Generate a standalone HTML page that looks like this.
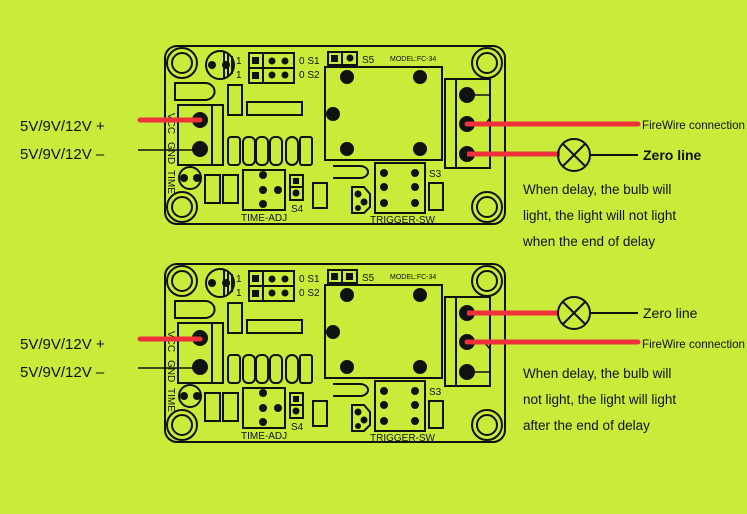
<!DOCTYPE html>
<html><head><meta charset="utf-8"><style>
html,body{margin:0;padding:0;background:#c9ec3a;}
svg{display:block}
text{font-family:"Liberation Sans",sans-serif;}
.m{font-family:"Liberation Mono",monospace;font-size:10px;fill:#111}
</style></head><body>
<svg width="747" height="514" viewBox="0 0 747 514" xmlns="http://www.w3.org/2000/svg">
<rect width="747" height="514" fill="#c9ec3a"/>

<!-- BOARD 1 -->
<g id="b1" stroke="#111" stroke-width="2" fill="none">
<rect x="165" y="46" width="340" height="178" rx="12"/>
<circle cx="182" cy="63" r="15"/><circle cx="182" cy="63" r="10"/>
<circle cx="487" cy="63" r="15"/><circle cx="487" cy="63" r="10"/>
<circle cx="182" cy="207" r="15"/><circle cx="182" cy="207" r="10"/>
<circle cx="487" cy="207" r="15"/><circle cx="487" cy="207" r="10"/>
<circle cx="220" cy="65" r="14"/>
<line x1="224" y1="52" x2="224" y2="78"/><line x1="228" y1="53" x2="228" y2="77"/><line x1="232" y1="56" x2="232" y2="74"/>
<rect x="249" y="53" width="45" height="30"/><line x1="263" y1="53" x2="263" y2="83"/><line x1="249" y1="68" x2="294" y2="68"/>
<rect x="328" y="52" width="29" height="13"/><line x1="342" y1="52" x2="342" y2="65"/>
<rect x="325" y="67" width="117" height="93"/>
<rect x="445" y="79" width="45" height="89"/><line x1="456" y1="79" x2="456" y2="168"/>
<rect x="178" y="105" width="45" height="60"/><line x1="212" y1="105" x2="212" y2="165"/>
<path d="M175 83 H205 A9 8 0 0 1 205 100 H175 Z"/>
<rect x="228" y="85" width="14" height="30"/>
<rect x="247" y="102" width="55" height="13"/>
<rect x="228" y="137" width="12" height="28" rx="3"/>
<rect x="243" y="137" width="12" height="28" rx="5"/>
<rect x="256" y="137" width="12" height="28" rx="5"/>
<rect x="270" y="137" width="12" height="28" rx="5"/>
<rect x="286" y="137" width="12" height="28" rx="6"/>
<rect x="300" y="137" width="12" height="28" rx="2"/>
<circle cx="190" cy="178" r="11"/>
<rect x="205" y="175" width="15" height="28"/>
<rect x="223" y="175" width="15" height="28"/>
<rect x="243" y="170" width="42" height="40"/>
<rect x="290" y="175" width="13" height="25"/><line x1="290" y1="187" x2="303" y2="187"/>
<rect x="313" y="183" width="14" height="25"/>
<path d="M333 166 H360 A8 6 0 0 1 360 178 H333"/>
<path d="M352 187 H364 L370 194 V207 L364 213 H352 Z"/>
<rect x="375" y="163" width="50" height="50"/>
<rect x="429" y="183" width="14" height="27"/>
<polyline points="467,95 490,95 490,118 484,126" stroke-width="1.5"/>
<line x1="490" y1="132" x2="490" y2="152" stroke-width="1.5"/>
</g>
<g fill="#111">
<circle cx="212" cy="65" r="4"/><circle cx="226" cy="65" r="4"/>
<rect x="252" y="57" width="7" height="7"/><rect x="252" y="72" width="7" height="7"/>
<circle cx="272" cy="61" r="3.5"/><circle cx="285" cy="61" r="3.5"/><circle cx="272" cy="75" r="3.5"/><circle cx="285" cy="75" r="3.5"/>
<rect x="331" y="55" width="7" height="7"/><circle cx="350" cy="58" r="3.5"/>
<circle cx="347" cy="77" r="7"/><circle cx="420" cy="77" r="7"/><circle cx="333" cy="114" r="7"/><circle cx="347" cy="149" r="7"/><circle cx="420" cy="149" r="7"/>
<circle cx="467" cy="95" r="8"/><circle cx="467" cy="124" r="8"/><circle cx="467" cy="154" r="8"/>
<circle cx="200" cy="120" r="8"/><circle cx="200" cy="149" r="8"/>
<circle cx="184" cy="178" r="4"/><circle cx="197" cy="178" r="4"/>
<circle cx="263" cy="175" r="4"/><circle cx="263" cy="190" r="4"/><circle cx="278" cy="190" r="4"/><circle cx="263" cy="204" r="4"/>
<rect x="293" y="178" width="6" height="6"/><circle cx="296" cy="193" r="3.5"/>
<circle cx="358" cy="194" r="3.5"/><circle cx="364" cy="202" r="3.5"/><circle cx="358" cy="208" r="3"/>
<circle cx="384" cy="173" r="4"/><circle cx="415" cy="173" r="4"/><circle cx="384" cy="187" r="4"/><circle cx="415" cy="187" r="4"/><circle cx="384" cy="203" r="4"/><circle cx="415" cy="203" r="4"/>
</g>
<g class="m">
<text x="236" y="64">1</text><text x="236" y="78">1</text>
<text x="299" y="64">0 S1</text><text x="299" y="78">0 S2</text>
<text x="362" y="63">S5</text>
<text x="390" y="61" font-size="7">MODEL:FC-34</text>
<text x="429" y="177">S3</text>
<text x="291" y="212">S4</text>
<text x="241" y="221">TIME-ADJ</text>
<text x="370" y="223">TRIGGER-SW</text>
<text transform="translate(168,113) rotate(90)">VCC</text>
<text transform="translate(168,142) rotate(90)">GND</text>
<text transform="translate(168,170) rotate(90)">TIME</text>
</g>

<!-- BOARD 2 (offset 218) -->
<g transform="translate(0,218)">
<g stroke="#111" stroke-width="2" fill="none">
<rect x="165" y="46" width="340" height="178" rx="12"/>
<circle cx="182" cy="63" r="15"/><circle cx="182" cy="63" r="10"/>
<circle cx="487" cy="63" r="15"/><circle cx="487" cy="63" r="10"/>
<circle cx="182" cy="207" r="15"/><circle cx="182" cy="207" r="10"/>
<circle cx="487" cy="207" r="15"/><circle cx="487" cy="207" r="10"/>
<circle cx="220" cy="65" r="14"/>
<line x1="224" y1="52" x2="224" y2="78"/><line x1="228" y1="53" x2="228" y2="77"/><line x1="232" y1="56" x2="232" y2="74"/>
<rect x="249" y="53" width="45" height="30"/><line x1="263" y1="53" x2="263" y2="83"/><line x1="249" y1="68" x2="294" y2="68"/>
<rect x="328" y="52" width="29" height="13"/><line x1="342" y1="52" x2="342" y2="65"/>
<rect x="325" y="67" width="117" height="93"/>
<rect x="445" y="79" width="45" height="89"/><line x1="456" y1="79" x2="456" y2="168"/>
<rect x="178" y="105" width="45" height="60"/><line x1="212" y1="105" x2="212" y2="165"/>
<path d="M175 83 H205 A9 8 0 0 1 205 100 H175 Z"/>
<rect x="228" y="85" width="14" height="30"/>
<rect x="247" y="102" width="55" height="13"/>
<rect x="228" y="137" width="12" height="28" rx="3"/>
<rect x="243" y="137" width="12" height="28" rx="5"/>
<rect x="256" y="137" width="12" height="28" rx="5"/>
<rect x="270" y="137" width="12" height="28" rx="5"/>
<rect x="286" y="137" width="12" height="28" rx="6"/>
<rect x="300" y="137" width="12" height="28" rx="2"/>
<circle cx="190" cy="178" r="11"/>
<rect x="205" y="175" width="15" height="28"/>
<rect x="223" y="175" width="15" height="28"/>
<rect x="243" y="170" width="42" height="40"/>
<rect x="290" y="175" width="13" height="25"/><line x1="290" y1="187" x2="303" y2="187"/>
<rect x="313" y="183" width="14" height="25"/>
<path d="M333 166 H360 A8 6 0 0 1 360 178 H333"/>
<path d="M352 187 H364 L370 194 V207 L364 213 H352 Z"/>
<rect x="375" y="163" width="50" height="50"/>
<rect x="429" y="183" width="14" height="27"/>
<polyline points="467,154 490,154 490,131 484,124" stroke-width="1.5"/>
<line x1="490" y1="98" x2="490" y2="116" stroke-width="1.5"/>
</g>
<g fill="#111">
<circle cx="212" cy="65" r="4"/><circle cx="226" cy="65" r="4"/>
<rect x="252" y="57" width="7" height="7"/><rect x="252" y="72" width="7" height="7"/>
<circle cx="272" cy="61" r="3.5"/><circle cx="285" cy="61" r="3.5"/><circle cx="272" cy="75" r="3.5"/><circle cx="285" cy="75" r="3.5"/>
<rect x="331" y="55" width="7" height="7"/><rect x="346" y="55" width="7" height="7"/>
<circle cx="347" cy="77" r="7"/><circle cx="420" cy="77" r="7"/><circle cx="333" cy="114" r="7"/><circle cx="347" cy="149" r="7"/><circle cx="420" cy="149" r="7"/>
<circle cx="467" cy="95" r="8"/><circle cx="467" cy="124" r="8"/><circle cx="467" cy="154" r="8"/>
<circle cx="200" cy="120" r="8"/><circle cx="200" cy="149" r="8"/>
<circle cx="184" cy="178" r="4"/><circle cx="197" cy="178" r="4"/>
<circle cx="263" cy="175" r="4"/><circle cx="263" cy="190" r="4"/><circle cx="278" cy="190" r="4"/><circle cx="263" cy="204" r="4"/>
<rect x="293" y="178" width="6" height="6"/><circle cx="296" cy="193" r="3.5"/>
<circle cx="358" cy="194" r="3.5"/><circle cx="364" cy="202" r="3.5"/><circle cx="358" cy="208" r="3"/>
<circle cx="384" cy="173" r="4"/><circle cx="415" cy="173" r="4"/><circle cx="384" cy="187" r="4"/><circle cx="415" cy="187" r="4"/><circle cx="384" cy="203" r="4"/><circle cx="415" cy="203" r="4"/>
</g>
<g class="m">
<text x="236" y="64">1</text><text x="236" y="78">1</text>
<text x="299" y="64">0 S1</text><text x="299" y="78">0 S2</text>
<text x="362" y="63">S5</text>
<text x="390" y="61" font-size="7">MODEL:FC-34</text>
<text x="429" y="177">S3</text>
<text x="291" y="212">S4</text>
<text x="241" y="221">TIME-ADJ</text>
<text x="370" y="223">TRIGGER-SW</text>
<text transform="translate(168,113) rotate(90)">VCC</text>
<text transform="translate(168,142) rotate(90)">GND</text>
<text transform="translate(168,170) rotate(90)">TIME</text>
</g>
</g>

<!-- wires board 1 -->
<line x1="140" y1="120" x2="200" y2="120" stroke="#f0303a" stroke-width="5" stroke-linecap="round"/>
<line x1="138" y1="150" x2="200" y2="150" stroke="#111" stroke-width="1.5"/>
<line x1="467" y1="124" x2="638" y2="124" stroke="#f0303a" stroke-width="5" stroke-linecap="round"/>
<line x1="467" y1="154" x2="560" y2="154" stroke="#f0303a" stroke-width="5"/>
<g stroke="#111" stroke-width="2" fill="none">
<circle cx="574" cy="155" r="16"/><line x1="563" y1="144" x2="585" y2="166"/><line x1="585" y1="144" x2="563" y2="166"/>
<line x1="590" y1="155" x2="638" y2="155"/>
</g>
<!-- wires board 2 -->
<line x1="140" y1="339" x2="200" y2="339" stroke="#f0303a" stroke-width="5" stroke-linecap="round"/>
<line x1="138" y1="368" x2="200" y2="368" stroke="#111" stroke-width="1.5"/>
<line x1="467" y1="313" x2="558" y2="313" stroke="#f0303a" stroke-width="5"/>
<line x1="467" y1="342" x2="638" y2="342" stroke="#f0303a" stroke-width="5" stroke-linecap="round"/>
<g stroke="#111" stroke-width="2" fill="none">
<circle cx="574" cy="313" r="16"/><line x1="563" y1="302" x2="585" y2="324"/><line x1="585" y1="302" x2="563" y2="324"/>
<line x1="590" y1="313" x2="638" y2="313"/>
</g>

<g fill="#111" font-size="15">
<text x="20" y="131">5V/9V/12V  +</text>
<text x="20" y="159">5V/9V/12V  –</text>
<text x="20" y="349">5V/9V/12V  +</text>
<text x="20" y="377">5V/9V/12V  –</text>
</g>
<g fill="#111">
<text x="642" y="129" font-size="12" textLength="103" lengthAdjust="spacingAndGlyphs">FireWire connection</text>
<text x="643" y="160" font-size="14" font-weight="bold">Zero line</text>
<text x="643" y="318" font-size="14">Zero line</text>
<text x="642" y="348" font-size="12" textLength="103" lengthAdjust="spacingAndGlyphs">FireWire connection</text>
<g font-size="13.5">
<text x="523" y="194">When delay, the bulb will</text>
<text x="523" y="220">light, the light will not light</text>
<text x="523" y="246">when the end of delay</text>
<text x="523" y="378">When delay, the bulb will</text>
<text x="523" y="404">not light, the light will light</text>
<text x="523" y="430">after the end of delay</text>
</g>
</g>
</svg>
</body></html>
